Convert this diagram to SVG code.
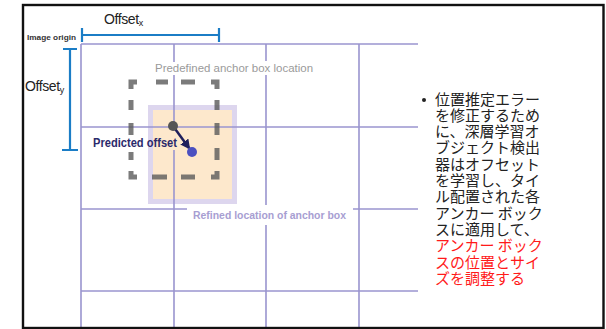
<svg xmlns="http://www.w3.org/2000/svg" width="606" height="329" viewBox="0 0 606 329">
<defs>
<style>
.grid{stroke:#9a95cf;stroke-width:1.6;fill:none}
.br{stroke:#1b7dc6;stroke-width:2.2;fill:none}
.dash{stroke:#5a5a5a;stroke-opacity:0.8;stroke-width:5;fill:none}
.lbl{font-family:"Liberation Sans",Arial,sans-serif}
.jp{font-family:"Noto Sans CJK JP",sans-serif;font-size:15px;fill:#222}
.red{fill:#ff1a1a}
</style>
<marker id="ah" viewBox="0 0 10 10" refX="8" refY="5" markerWidth="4" markerHeight="4" orient="auto" markerUnits="strokeWidth">
<path d="M0,0 L10,5 L0,10 z" fill="#1f1f5c"/>
</marker>
</defs>
<rect x="0" y="0" width="606" height="329" fill="#fff"/>
<g id="refined-box">
<rect x="148" y="105" width="89" height="99" fill="#ddd6ee"/>
<rect x="153" y="110" width="79" height="89" fill="#fde8cc"/>
</g>
<g id="connectors">
<g id="grid">
<path class="grid" d="M81,44 H418 M81,127 H418 M81,209 H187 M353,209 H418 M81,291 H418"/>
<path class="grid" d="M81,44 V327 M174,44 V62 M174,75 V131 M174,150 V327 M266,44 V61 M266,75 V205 M266,225 V327 M359,44 V327"/>
</g>
<g id="offset-x-bracket">
<path class="br" d="M82,35 H219 M82,28 V42 M219,28 V42"/>
</g>
<g id="offset-y-bracket">
<path class="br" d="M70,49 V150 M63,49 H77 M62,150 H78"/>
</g>
<line id="predicted-arrow" x1="173" y1="126" x2="189" y2="148" stroke="#1f1f5c" stroke-width="2.5" marker-end="url(#ah)"/>
</g>
<g id="anchor-box">
<path class="dash" d="M131,89 V82 H137 M156,82 H168 M181,82 H195 M211,82 H217 V89 M217,100 V110 M217,123 V135 M217,148 V160 M217,171 V177 H211 M195,177 H181 M167,177 H152 M137,177 H131 V171 M131,160 V152 M131,135 V123 M131,110 V100"/>
</g>
<g id="points">
<circle cx="173" cy="126" r="5" fill="#555"/>
<circle cx="192" cy="152" r="5" fill="#4b50c0"/>
</g>
<g id="labels">
<text class="lbl" x="104" y="24" font-size="14" fill="#222" letter-spacing="-0.4">Offset<tspan font-size="9" dy="2">x</tspan></text>
<text class="lbl" x="27" y="39.5" font-size="7.5" font-weight="bold" fill="#333" textLength="49" lengthAdjust="spacingAndGlyphs">Image origin</text>
<text class="lbl" x="25" y="91" font-size="14" fill="#222" letter-spacing="-0.4">Offset<tspan font-size="9" dy="2">y</tspan></text>
<text class="lbl" x="155" y="72" font-size="10.5" fill="#9a9a9a" textLength="158" lengthAdjust="spacingAndGlyphs">Predefined anchor box location</text>
<text class="lbl" x="193" y="219" font-size="10" font-weight="bold" fill="#a79ed2" textLength="153" lengthAdjust="spacingAndGlyphs">Refined location of anchor box</text>
<text class="lbl" x="93" y="147" font-size="12" font-weight="bold" fill="#2b2a6b" textLength="84" lengthAdjust="spacingAndGlyphs">Predicted offset</text>
</g>
<g id="frame">
<rect x="23" y="5" width="580.5" height="323" fill="none" stroke="#111" stroke-width="2.4"/>
</g>
<g id="bullet-text">
<circle cx="424" cy="100" r="2" fill="#222"/>
<text class="jp" x="435">
<tspan x="435" y="104.5">位置推定エラー</tspan>
<tspan x="435" y="120.8">を修正するため</tspan>
<tspan x="435" y="137.1">に、深層学習オ</tspan>
<tspan x="435" y="153.4">ブジェクト検出</tspan>
<tspan x="435" y="169.7">器はオフセット</tspan>
<tspan x="435" y="186">を学習し、タイ</tspan>
<tspan x="435" y="202.3">ル配置された各</tspan>
<tspan x="435" y="218.6">アンカー ボック</tspan>
<tspan x="435" y="234.9">スに適用して、</tspan>
<tspan class="red" x="435" y="251.2">アンカー ボック</tspan>
<tspan class="red" x="435" y="267.5">スの位置とサイ</tspan>
<tspan class="red" x="435" y="283.8">ズを調整する</tspan>
</text>
</g>
</svg>
